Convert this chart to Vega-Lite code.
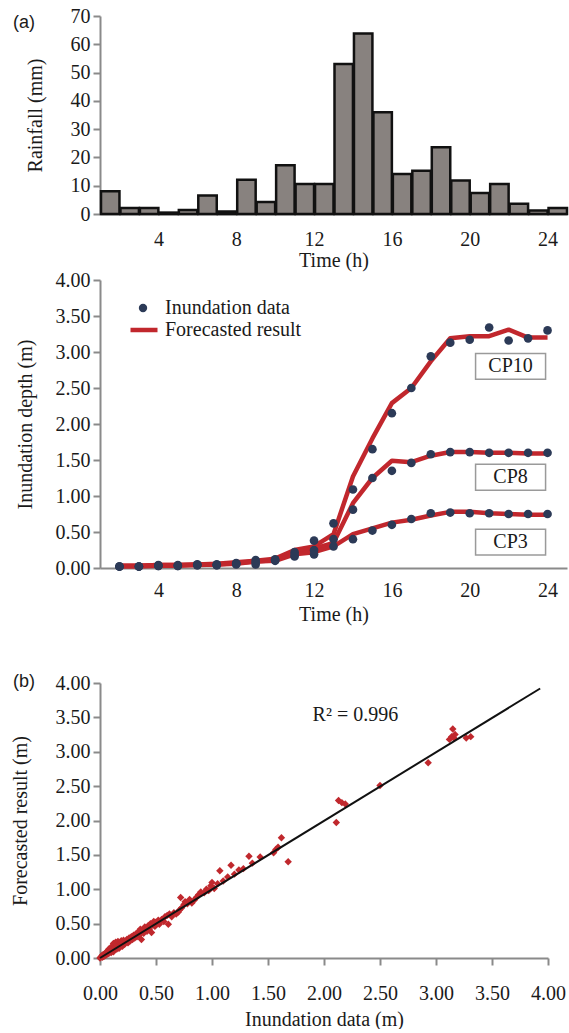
{
  "$schema": "https://vega.github.io/schema/vega-lite/v6.json",
  "background": "white",
  "padding": {"left": 10, "top": 6, "right": 0, "bottom": 0},
  "config": {
    "view": {"stroke": null},
    "font": "Liberation Serif",
    "axis": {
      "grid": false,
      "domainColor": "#8a8a8a",
      "domainWidth": 2,
      "tickColor": "#8a8a8a",
      "tickWidth": 2,
      "tickSize": 7,
      "labelFont": "Liberation Serif",
      "labelFontSize": 20,
      "labelColor": "#1a1a1a",
      "labelPadding": 3,
      "labelFlush": false,
      "labelOverlap": false,
      "titleFont": "Liberation Serif",
      "titleFontSize": 20,
      "titleFontWeight": "normal",
      "titleColor": "#1a1a1a"
    },
    "legend": {
      "labelFont": "Liberation Serif",
      "labelFontSize": 20,
      "labelColor": "#1a1a1a",
      "padding": 0
    },
    "title": {"font": "Liberation Sans", "fontSize": 18, "fontWeight": "normal", "color": "#1a1a1a"}
  },
  "spacing": 49,
  "resolve": {"legend": {"fill": "independent", "stroke": "independent"}},
  "vconcat": [
    {
      "spacing": 0,
      "resolve": {"legend": {"fill": "independent", "stroke": "independent"}},
      "vconcat": [
        {
          "title": {"text": "(a)", "anchor": "start", "frame": "group", "dx": -87, "dy": 35, "offset": 0, "baseline": "middle"},
          "width": 467,
          "height": 198,
          "data": {"values": [
            {"start": 1, "end": 2, "rain": 8.0},
            {"start": 2, "end": 3, "rain": 2.1},
            {"start": 3, "end": 4, "rain": 2.1},
            {"start": 4, "end": 5, "rain": 0.5},
            {"start": 5, "end": 6, "rain": 1.4},
            {"start": 6, "end": 7, "rain": 6.5},
            {"start": 7, "end": 8, "rain": 0.9},
            {"start": 8, "end": 9, "rain": 12.1},
            {"start": 9, "end": 10, "rain": 4.2},
            {"start": 10, "end": 11, "rain": 17.2},
            {"start": 11, "end": 12, "rain": 10.6},
            {"start": 12, "end": 13, "rain": 10.6},
            {"start": 13, "end": 14, "rain": 53.0},
            {"start": 14, "end": 15, "rain": 63.8},
            {"start": 15, "end": 16, "rain": 36.0},
            {"start": 16, "end": 17, "rain": 14.1},
            {"start": 17, "end": 18, "rain": 15.3},
            {"start": 18, "end": 19, "rain": 23.6},
            {"start": 19, "end": 20, "rain": 11.8},
            {"start": 20, "end": 21, "rain": 7.4},
            {"start": 21, "end": 22, "rain": 10.6},
            {"start": 22, "end": 23, "rain": 3.6},
            {"start": 23, "end": 24, "rain": 1.2},
            {"start": 24, "end": 25, "rain": 2.1}
          ]},
          "mark": {"type": "bar", "fill": "#88827f", "stroke": "#111111", "strokeWidth": 2.5},
          "encoding": {
            "x": {"field": "start", "type": "quantitative", "bin": {"binned": true}, "title": "Time (h)",
                  "scale": {"domain": [1, 25], "nice": false, "zero": false},
                  "axis": {"values": [4, 8, 12, 16, 20, 24], "ticks": false, "labelPadding": 15, "titlePadding": 1}},
            "x2": {"field": "end"},
            "y": {"field": "rain", "type": "quantitative", "title": "Rainfall (mm)",
                  "scale": {"domain": [0, 70], "nice": false},
                  "axis": {"values": [0, 10, 20, 30, 40, 50, 60, 70], "titlePadding": 25}}
          }
        },
        {
          "width": 467,
          "height": 288,
          "layer": [
            {
              "data": {"name": "depth", "values": [
                {"cp": "CP10", "hour": 2, "obs": 0.02, "fc": 0.03},
                {"cp": "CP10", "hour": 3, "obs": 0.02, "fc": 0.03},
                {"cp": "CP10", "hour": 4, "obs": 0.04, "fc": 0.04},
                {"cp": "CP10", "hour": 5, "obs": 0.04, "fc": 0.04},
                {"cp": "CP10", "hour": 6, "obs": 0.05, "fc": 0.05},
                {"cp": "CP10", "hour": 7, "obs": 0.05, "fc": 0.06},
                {"cp": "CP10", "hour": 8, "obs": 0.07, "fc": 0.08},
                {"cp": "CP10", "hour": 9, "obs": 0.11, "fc": 0.10},
                {"cp": "CP10", "hour": 10, "obs": 0.12, "fc": 0.13},
                {"cp": "CP10", "hour": 11, "obs": 0.22, "fc": 0.25},
                {"cp": "CP10", "hour": 12, "obs": 0.38, "fc": 0.30},
                {"cp": "CP10", "hour": 13, "obs": 0.62, "fc": 0.47},
                {"cp": "CP10", "hour": 14, "obs": 1.09, "fc": 1.27},
                {"cp": "CP10", "hour": 15, "obs": 1.65, "fc": 1.80},
                {"cp": "CP10", "hour": 16, "obs": 2.15, "fc": 2.29},
                {"cp": "CP10", "hour": 17, "obs": 2.50, "fc": 2.50},
                {"cp": "CP10", "hour": 18, "obs": 2.94, "fc": 2.87},
                {"cp": "CP10", "hour": 19, "obs": 3.13, "fc": 3.19},
                {"cp": "CP10", "hour": 20, "obs": 3.17, "fc": 3.22},
                {"cp": "CP10", "hour": 21, "obs": 3.34, "fc": 3.22},
                {"cp": "CP10", "hour": 22, "obs": 3.16, "fc": 3.31},
                {"cp": "CP10", "hour": 23, "obs": 3.19, "fc": 3.20},
                {"cp": "CP10", "hour": 24, "obs": 3.30, "fc": 3.20},
                {"cp": "CP8", "hour": 2, "obs": 0.02, "fc": 0.03},
                {"cp": "CP8", "hour": 3, "obs": 0.02, "fc": 0.03},
                {"cp": "CP8", "hour": 4, "obs": 0.03, "fc": 0.04},
                {"cp": "CP8", "hour": 5, "obs": 0.03, "fc": 0.04},
                {"cp": "CP8", "hour": 6, "obs": 0.04, "fc": 0.05},
                {"cp": "CP8", "hour": 7, "obs": 0.04, "fc": 0.05},
                {"cp": "CP8", "hour": 8, "obs": 0.06, "fc": 0.07},
                {"cp": "CP8", "hour": 9, "obs": 0.05, "fc": 0.09},
                {"cp": "CP8", "hour": 10, "obs": 0.10, "fc": 0.11},
                {"cp": "CP8", "hour": 11, "obs": 0.16, "fc": 0.22},
                {"cp": "CP8", "hour": 12, "obs": 0.25, "fc": 0.27},
                {"cp": "CP8", "hour": 13, "obs": 0.40, "fc": 0.35},
                {"cp": "CP8", "hour": 14, "obs": 0.81, "fc": 0.90},
                {"cp": "CP8", "hour": 15, "obs": 1.25, "fc": 1.25},
                {"cp": "CP8", "hour": 16, "obs": 1.35, "fc": 1.49},
                {"cp": "CP8", "hour": 17, "obs": 1.46, "fc": 1.47},
                {"cp": "CP8", "hour": 18, "obs": 1.58, "fc": 1.56},
                {"cp": "CP8", "hour": 19, "obs": 1.61, "fc": 1.61},
                {"cp": "CP8", "hour": 20, "obs": 1.61, "fc": 1.61},
                {"cp": "CP8", "hour": 21, "obs": 1.60, "fc": 1.60},
                {"cp": "CP8", "hour": 22, "obs": 1.60, "fc": 1.60},
                {"cp": "CP8", "hour": 23, "obs": 1.60, "fc": 1.59},
                {"cp": "CP8", "hour": 24, "obs": 1.60, "fc": 1.59},
                {"cp": "CP3", "hour": 2, "obs": 0.02, "fc": 0.02},
                {"cp": "CP3", "hour": 3, "obs": 0.02, "fc": 0.02},
                {"cp": "CP3", "hour": 4, "obs": 0.03, "fc": 0.03},
                {"cp": "CP3", "hour": 5, "obs": 0.03, "fc": 0.03},
                {"cp": "CP3", "hour": 6, "obs": 0.04, "fc": 0.04},
                {"cp": "CP3", "hour": 7, "obs": 0.04, "fc": 0.05},
                {"cp": "CP3", "hour": 8, "obs": 0.05, "fc": 0.06},
                {"cp": "CP3", "hour": 9, "obs": 0.08, "fc": 0.09},
                {"cp": "CP3", "hour": 10, "obs": 0.11, "fc": 0.10},
                {"cp": "CP3", "hour": 11, "obs": 0.18, "fc": 0.19},
                {"cp": "CP3", "hour": 12, "obs": 0.19, "fc": 0.22},
                {"cp": "CP3", "hour": 13, "obs": 0.30, "fc": 0.30},
                {"cp": "CP3", "hour": 14, "obs": 0.40, "fc": 0.47},
                {"cp": "CP3", "hour": 15, "obs": 0.52, "fc": 0.55},
                {"cp": "CP3", "hour": 16, "obs": 0.60, "fc": 0.63},
                {"cp": "CP3", "hour": 17, "obs": 0.68, "fc": 0.67},
                {"cp": "CP3", "hour": 18, "obs": 0.76, "fc": 0.73},
                {"cp": "CP3", "hour": 19, "obs": 0.77, "fc": 0.78},
                {"cp": "CP3", "hour": 20, "obs": 0.76, "fc": 0.78},
                {"cp": "CP3", "hour": 21, "obs": 0.76, "fc": 0.76},
                {"cp": "CP3", "hour": 22, "obs": 0.75, "fc": 0.75},
                {"cp": "CP3", "hour": 23, "obs": 0.75, "fc": 0.74},
                {"cp": "CP3", "hour": 24, "obs": 0.75, "fc": 0.74}
              ]},
              "mark": {"type": "line", "strokeWidth": 4.5, "strokeJoin": "round"},
              "encoding": {
                "x": {"field": "hour", "type": "quantitative", "title": "Time (h)",
                      "scale": {"domain": [1, 25], "nice": false, "zero": false},
                      "axis": {"values": [4, 8, 12, 16, 20, 24], "ticks": false, "labelPadding": 12, "titlePadding": 4}},
                "y": {"field": "fc", "type": "quantitative", "title": "Inundation depth (m)",
                      "scale": {"domain": [0, 4], "nice": false},
                      "axis": {"values": [0, 0.5, 1, 1.5, 2, 2.5, 3, 3.5, 4], "format": ".2f", "titlePadding": 20, "labelOverlap": false, "labelSeparation": 0, "tickCount": 9}},
                "detail": {"field": "cp"},
                "stroke": {"datum": "Forecasted result", "scale": {"range": ["#c1272d"]},
                           "legend": {"orient": "none", "legendX": 28, "legendY": 34, "title": null, "symbolType": "stroke", "symbolSize": 729, "symbolStrokeWidth": 4.5, "labelOffset": 5}}
              }
            },
            {
              "data": {"name": "depth"},
              "mark": {"type": "point", "filled": true, "size": 75, "opacity": 1},
              "encoding": {
                "x": {"field": "hour", "type": "quantitative", "title": "Time (h)"},
                "y": {"field": "obs", "type": "quantitative", "title": "Inundation depth (m)"},
                "fill": {"datum": "Inundation data", "scale": {"range": ["#2c3a57"]},
                         "legend": {"orient": "none", "legendX": 33, "legendY": 18, "title": null, "symbolType": "circle", "symbolSize": 70, "labelOffset": 12}}
              }
            },
            {
              "data": {"values": [
                {"label": "CP10", "hour": 22.1, "depth": 2.80},
                {"label": "CP8", "hour": 22.1, "depth": 1.26},
                {"label": "CP3", "hour": 22.1, "depth": 0.36}
              ]},
              "layer": [
                {
                  "mark": {"type": "point", "shape": "M-1,-0.37H1V0.37H-1Z", "size": 4900, "filled": true, "fill": "white", "stroke": "#9a9a9a", "strokeWidth": 1.5, "opacity": 1},
                  "encoding": {
                    "x": {"field": "hour", "type": "quantitative", "title": "Time (h)"},
                    "y": {"field": "depth", "type": "quantitative", "title": "Inundation depth (m)"}
                  }
                },
                {
                  "mark": {"type": "text", "font": "Liberation Serif", "fontSize": 20, "color": "#1a1a1a", "align": "center", "baseline": "middle"},
                  "encoding": {
                    "x": {"field": "hour", "type": "quantitative", "title": "Time (h)"},
                    "y": {"field": "depth", "type": "quantitative", "title": "Inundation depth (m)"},
                    "text": {"field": "label"}
                  }
                }
              ]
            }
          ]
        }
      ]
    },
    {
      "title": {"text": "(b)", "anchor": "start", "frame": "group", "dx": -87, "dy": 27, "offset": 0, "baseline": "middle"},
      "width": 448,
      "height": 275,
      "layer": [
        {
          "data": {"values": [
            {"obs": 0.00, "fc": 0.00}, {"obs": 0.01, "fc": 0.02}, {"obs": 0.02, "fc": 0.01}, {"obs": 0.02, "fc": 0.04},
            {"obs": 0.03, "fc": 0.02}, {"obs": 0.03, "fc": 0.05}, {"obs": 0.04, "fc": 0.03}, {"obs": 0.05, "fc": 0.07},
            {"obs": 0.05, "fc": 0.04}, {"obs": 0.06, "fc": 0.09}, {"obs": 0.06, "fc": 0.05}, {"obs": 0.07, "fc": 0.11},
            {"obs": 0.07, "fc": 0.06}, {"obs": 0.08, "fc": 0.13}, {"obs": 0.08, "fc": 0.07}, {"obs": 0.09, "fc": 0.10},
            {"obs": 0.10, "fc": 0.16}, {"obs": 0.10, "fc": 0.08}, {"obs": 0.11, "fc": 0.12}, {"obs": 0.12, "fc": 0.21},
            {"obs": 0.12, "fc": 0.09}, {"obs": 0.13, "fc": 0.15}, {"obs": 0.14, "fc": 0.23}, {"obs": 0.15, "fc": 0.13},
            {"obs": 0.15, "fc": 0.19}, {"obs": 0.16, "fc": 0.24}, {"obs": 0.17, "fc": 0.14}, {"obs": 0.18, "fc": 0.22},
            {"obs": 0.19, "fc": 0.25}, {"obs": 0.20, "fc": 0.17}, {"obs": 0.21, "fc": 0.26}, {"obs": 0.22, "fc": 0.20},
            {"obs": 0.23, "fc": 0.24}, {"obs": 0.24, "fc": 0.27}, {"obs": 0.25, "fc": 0.22}, {"obs": 0.26, "fc": 0.29},
            {"obs": 0.27, "fc": 0.25}, {"obs": 0.28, "fc": 0.31}, {"obs": 0.29, "fc": 0.27}, {"obs": 0.30, "fc": 0.33},
            {"obs": 0.31, "fc": 0.29}, {"obs": 0.32, "fc": 0.35}, {"obs": 0.33, "fc": 0.31}, {"obs": 0.34, "fc": 0.38},
            {"obs": 0.35, "fc": 0.33}, {"obs": 0.36, "fc": 0.42}, {"obs": 0.37, "fc": 0.27}, {"obs": 0.38, "fc": 0.40},
            {"obs": 0.39, "fc": 0.36}, {"obs": 0.40, "fc": 0.45}, {"obs": 0.41, "fc": 0.43}, {"obs": 0.42, "fc": 0.39},
            {"obs": 0.43, "fc": 0.47}, {"obs": 0.44, "fc": 0.42}, {"obs": 0.45, "fc": 0.50}, {"obs": 0.46, "fc": 0.37},
            {"obs": 0.47, "fc": 0.48}, {"obs": 0.48, "fc": 0.53}, {"obs": 0.49, "fc": 0.46}, {"obs": 0.50, "fc": 0.52},
            {"obs": 0.52, "fc": 0.55}, {"obs": 0.53, "fc": 0.49}, {"obs": 0.55, "fc": 0.56}, {"obs": 0.57, "fc": 0.53},
            {"obs": 0.58, "fc": 0.60}, {"obs": 0.60, "fc": 0.62}, {"obs": 0.61, "fc": 0.49}, {"obs": 0.62, "fc": 0.64},
            {"obs": 0.64, "fc": 0.60}, {"obs": 0.66, "fc": 0.66}, {"obs": 0.68, "fc": 0.64}, {"obs": 0.70, "fc": 0.67},
            {"obs": 0.71, "fc": 0.70}, {"obs": 0.72, "fc": 0.88}, {"obs": 0.73, "fc": 0.73}, {"obs": 0.75, "fc": 0.78},
            {"obs": 0.76, "fc": 0.82}, {"obs": 0.78, "fc": 0.79}, {"obs": 0.80, "fc": 0.85}, {"obs": 0.82, "fc": 0.80},
            {"obs": 0.84, "fc": 0.84}, {"obs": 0.86, "fc": 0.88}, {"obs": 0.88, "fc": 0.92}, {"obs": 0.90, "fc": 0.96},
            {"obs": 0.93, "fc": 0.95}, {"obs": 0.95, "fc": 1.00}, {"obs": 0.97, "fc": 0.98}, {"obs": 0.99, "fc": 1.05},
            {"obs": 1.00, "fc": 1.10}, {"obs": 1.02, "fc": 1.01}, {"obs": 1.05, "fc": 1.08}, {"obs": 1.07, "fc": 1.27},
            {"obs": 1.10, "fc": 1.12}, {"obs": 1.14, "fc": 1.18}, {"obs": 1.17, "fc": 1.35}, {"obs": 1.20, "fc": 1.22},
            {"obs": 1.24, "fc": 1.28}, {"obs": 1.28, "fc": 1.30}, {"obs": 1.33, "fc": 1.48}, {"obs": 1.36, "fc": 1.38},
            {"obs": 1.43, "fc": 1.47}, {"obs": 1.55, "fc": 1.53}, {"obs": 1.57, "fc": 1.58}, {"obs": 1.59, "fc": 1.61},
            {"obs": 1.62, "fc": 1.75}, {"obs": 1.68, "fc": 1.40}, {"obs": 2.11, "fc": 1.97}, {"obs": 2.13, "fc": 2.29},
            {"obs": 2.16, "fc": 2.26}, {"obs": 2.19, "fc": 2.24}, {"obs": 2.50, "fc": 2.51}, {"obs": 2.93, "fc": 2.84},
            {"obs": 3.12, "fc": 3.18}, {"obs": 3.14, "fc": 3.22}, {"obs": 3.15, "fc": 3.33}, {"obs": 3.16, "fc": 3.20},
            {"obs": 3.17, "fc": 3.25}, {"obs": 3.27, "fc": 3.20}, {"obs": 3.31, "fc": 3.22}
          ]},
          "mark": {"type": "point", "shape": "diamond", "filled": true, "size": 55, "color": "#c0282d", "opacity": 1},
          "encoding": {
            "x": {"field": "obs", "type": "quantitative", "title": "Inundation data (m)",
                  "scale": {"domain": [0, 4], "nice": false},
                  "axis": {"values": [0, 0.5, 1, 1.5, 2, 2.5, 3, 3.5, 4], "format": ".2f", "labelPadding": 18, "titlePadding": 6, "labelOverlap": false}},
            "y": {"field": "fc", "type": "quantitative", "title": "Forecasted result (m)",
                  "scale": {"domain": [0, 4], "nice": false},
                  "axis": {"values": [0, 0.5, 1, 1.5, 2, 2.5, 3, 3.5, 4], "format": ".2f", "titlePadding": 25, "labelOverlap": false, "labelSeparation": 0, "tickCount": 9}}
          }
        },
        {
          "data": {"values": [{"obs": 0.0, "fc": 0.0}, {"obs": 3.93, "fc": 3.92}]},
          "mark": {"type": "line", "color": "#111111", "strokeWidth": 2},
          "encoding": {
            "x": {"field": "obs", "type": "quantitative", "title": "Inundation data (m)"},
            "y": {"field": "fc", "type": "quantitative", "title": "Forecasted result (m)"}
          }
        },
        {
          "data": {"values": [{"obs": 2.28, "fc": 3.53, "label": "R² = 0.996"}]},
          "mark": {"type": "text", "font": "Liberation Serif", "fontSize": 20, "color": "#1a1a1a", "align": "center", "baseline": "middle"},
          "encoding": {
            "x": {"field": "obs", "type": "quantitative", "title": "Inundation data (m)"},
            "y": {"field": "fc", "type": "quantitative", "title": "Forecasted result (m)"},
            "text": {"field": "label"}
          }
        }
      ]
    }
  ]
}
